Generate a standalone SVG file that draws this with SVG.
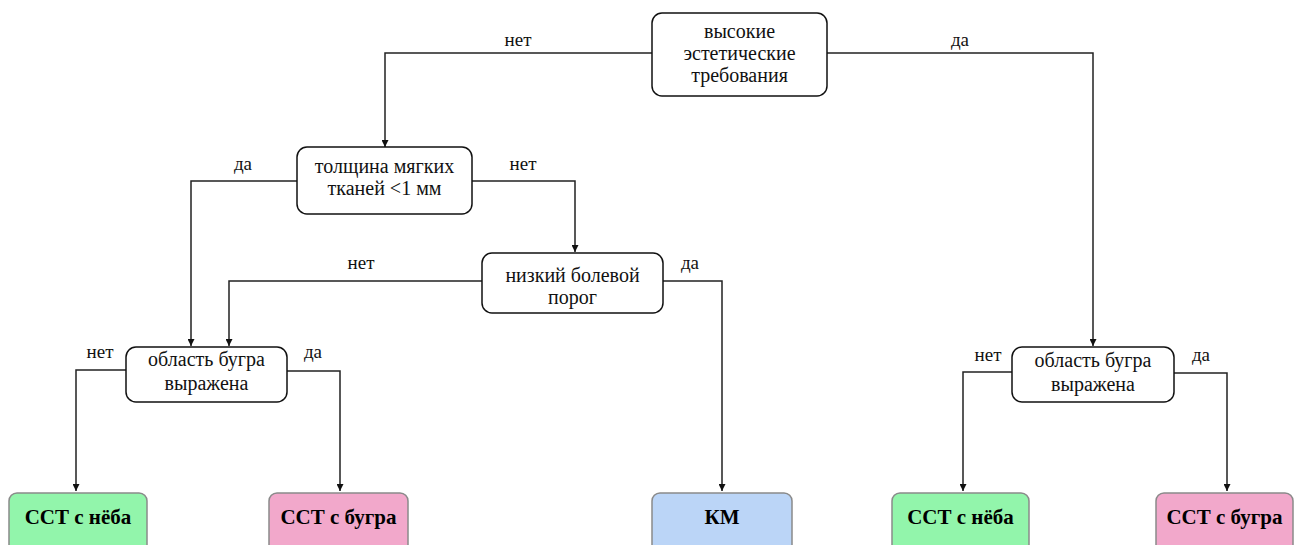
<svg xmlns="http://www.w3.org/2000/svg" width="1300" height="545" viewBox="0 0 1300 545">
  <style>
    text { font-family: "Liberation Serif", "Tinos", "DejaVu Serif", serif; }
    .q rect { fill: #ffffff; stroke: #111111; stroke-width: 1.5; }
    .q text { font-size: 20px; fill: #111111; text-anchor: middle; }
    .leaf rect { stroke: #8a8a8a; stroke-width: 1.5; }
    .leaf text { font-size: 21px; font-weight: bold; fill: #000000; text-anchor: middle; }
    .green rect { fill: #92f5ab; }
    .pink rect { fill: #f2a8cb; }
    .blue rect { fill: #bbd5f7; }
    .edges path { fill: none; stroke: #222222; stroke-width: 1.5; marker-end: url(#arrow); }
    .edges text { font-size: 19px; fill: #111111; text-anchor: middle; }
  </style>
  <defs>
    <marker id="arrow" viewBox="0 0 10 10" refX="10" refY="5" markerWidth="7" markerHeight="7" markerUnits="userSpaceOnUse" orient="auto">
      <path d="M0,0 L10,5 L0,10 z" fill="#111111"/>
    </marker>
  </defs>

  <rect width="1300" height="545" fill="#ffffff"/>

  <!-- connectors -->
  <g id="connectors" class="edges">
    <path d="M652,53 H385 V147"/>
    <text x="518" y="46">нет</text>
    <path d="M827,53 H1093 V346"/>
    <text x="960" y="46">да</text>

    <path d="M297,181 H191 V346"/>
    <text x="243" y="170">да</text>
    <path d="M472,181 H575 V252"/>
    <text x="523" y="170">нет</text>

    <path d="M482,281 H229 V346"/>
    <text x="361" y="269">нет</text>
    <path d="M663,281 H722 V491"/>
    <text x="690" y="269">да</text>

    <path d="M126,370 H76 V491"/>
    <text x="100" y="358">нет</text>
    <path d="M287,371 H340 V491"/>
    <text x="313" y="358">да</text>

    <path d="M1012,372 H963 V491"/>
    <text x="988" y="361">нет</text>
    <path d="M1174,373 H1227 V491"/>
    <text x="1201" y="361">да</text>
  </g>

  <!-- decision nodes -->
  <g id="aesthetic" class="q">
    <rect x="652" y="13" width="175" height="83" rx="10"/>
    <text x="739.5" y="38">высокие</text>
    <text x="739.5" y="60">эстетические</text>
    <text x="739.5" y="82">требования</text>
  </g>
  <g id="tissue" class="q">
    <rect x="297" y="147" width="175" height="67" rx="10"/>
    <text x="384.5" y="173">толщина мягких</text>
    <text x="384.5" y="195">тканей &lt;1 мм</text>
  </g>
  <g id="pain" class="q">
    <rect x="482" y="253" width="181" height="60" rx="10"/>
    <text x="572.5" y="282">низкий болевой</text>
    <text x="572.5" y="304">порог</text>
  </g>
  <g id="tuber-left" class="q">
    <rect x="126" y="347" width="161" height="55" rx="10"/>
    <text x="206.5" y="366">область бугра</text>
    <text x="206.5" y="390">выражена</text>
  </g>
  <g id="tuber-right" class="q">
    <rect x="1012" y="347" width="162" height="55" rx="10"/>
    <text x="1093" y="367">область бугра</text>
    <text x="1093" y="391">выражена</text>
  </g>

  <!-- outcomes -->
  <g id="palate-left" class="leaf green">
    <rect x="9" y="493" width="138" height="62" rx="8"/>
    <text x="78" y="524">ССТ с нёба</text>
  </g>
  <g id="tuber-graft-left" class="leaf pink">
    <rect x="269" y="493" width="139" height="62" rx="8"/>
    <text x="338.5" y="524">ССТ с бугра</text>
  </g>
  <g id="km" class="leaf blue">
    <rect x="652" y="493" width="140" height="62" rx="8"/>
    <text x="722" y="524">КМ</text>
  </g>
  <g id="palate-right" class="leaf green">
    <rect x="892" y="493" width="137" height="62" rx="8"/>
    <text x="960.5" y="524">ССТ с нёба</text>
  </g>
  <g id="tuber-graft-right" class="leaf pink">
    <rect x="1156" y="493" width="137" height="62" rx="8"/>
    <text x="1224.5" y="524">ССТ с бугра</text>
  </g>
</svg>
